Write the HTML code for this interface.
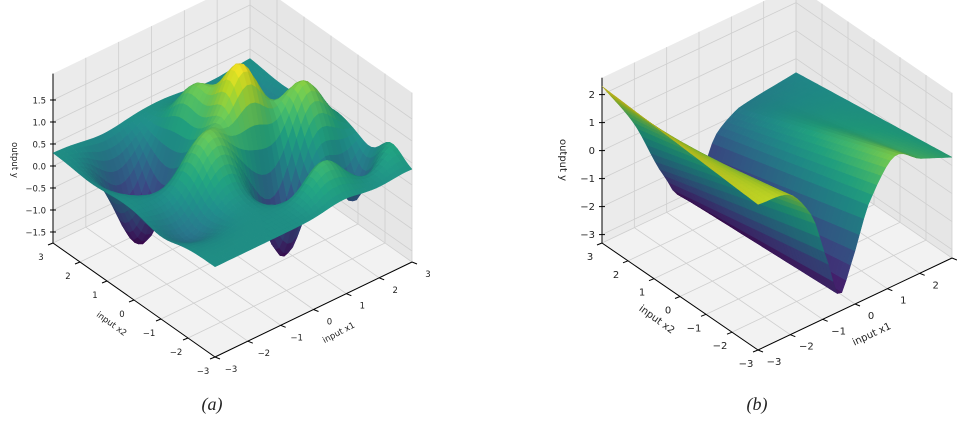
<!DOCTYPE html>
<html><head><meta charset="utf-8"><style>
body{margin:0;background:#fff}
svg{display:block}
text{font-family:"DejaVu Sans","Liberation Sans",sans-serif;fill:#222}
</style></head><body>
<svg id="s" width="957" height="421" xmlns="http://www.w3.org/2000/svg"></svg>
<script>
const S=document.getElementById('s');
const NS='http://www.w3.org/2000/svg';
function el(t,a,txt){const e=document.createElementNS(NS,t);for(const k in a)e.setAttribute(k,a[k]);if(txt!==undefined)e.textContent=txt;S.appendChild(e);return e;}
const VIR=[[68,1,84],[72,35,116],[64,67,135],[52,94,141],[41,120,142],[32,144,140],[34,167,132],[68,190,112],[121,209,81],[189,222,38],[253,231,37]];
function vir(t){t=Math.max(0,Math.min(1,t))*10;const i=Math.min(9,Math.floor(t)),f=t-i;const a=VIR[i],b=VIR[i+1];return [0,1,2].map(k=>a[k]+(b[k]-a[k])*f);}
function plot(o){
  const F=o.front,R=[o.right[0]-F[0],o.right[1]-F[1]],L=[o.left[0]-F[0],o.left[1]-F[1]];
  const P=(x1,x2,z)=>[F[0]+(x1+3)/6*R[0]+(x2+3)/6*L[0],F[1]+(x1+3)/6*R[1]+(x2+3)/6*L[1]-(z-o.zmin)*o.k];
  const pts=a=>a.map(p=>p[0].toFixed(1)+','+p[1].toFixed(1)).join(' ');
  const zmin=o.zmin,zmax=o.zmax;
  el('polygon',{points:pts([P(-3,-3,zmin),P(3,-3,zmin),P(3,3,zmin),P(-3,3,zmin)]),fill:'#f2f2f2'});
  el('polygon',{points:pts([P(-3,3,zmin),P(3,3,zmin),P(3,3,zmax),P(-3,3,zmax)]),fill:'#ebebeb'});
  el('polygon',{points:pts([P(3,3,zmin),P(3,-3,zmin),P(3,-3,zmax),P(3,3,zmax)]),fill:'#e6e6e6'});
  const g={stroke:'#cfcfcf','stroke-width':0.8};
  const line=(a,b,st)=>el('line',Object.assign({x1:a[0],y1:a[1],x2:b[0],y2:b[1]},st));
  for(let t=-3;t<=3;t++){
    line(P(t,-3,zmin),P(t,3,zmin),g);line(P(-3,t,zmin),P(3,t,zmin),g);
    line(P(t,3,zmin),P(t,3,zmax),g);line(P(3,t,zmin),P(3,t,zmax),g);
  }
  o.zt.forEach(z=>{line(P(-3,3,z),P(3,3,z),g);line(P(3,3,z),P(3,-3,z),g);});
  const ax={stroke:'#000','stroke-width':1};
  line(P(-3,3,zmin),P(-3,3,zmax),ax);
  line(P(-3,3,zmin),P(-3,-3,zmin),ax);
  line(P(-3,-3,zmin),P(3,-3,zmin),ax);
  const N=44,polys=[];
  const zs=[];let fmin=1e9,fmax=-1e9;
  for(let i=0;i<=N;i++){zs[i]=[];for(let j=0;j<=N;j++){const x1=-3+6*i/N,x2=-3+6*j/N;const z=o.f(x1,x2);zs[i][j]=z;fmin=Math.min(fmin,z);fmax=Math.max(fmax,z);}}
  for(let i=0;i<N;i++)for(let j=0;j<N;j++){
    const x1=-3+6*i/N,x2=-3+6*j/N,d=6/N;
    const z00=zs[i][j],z10=zs[i+1][j],z01=zs[i][j+1],z11=zs[i+1][j+1];
    const zc=(z00+z10+z01+z11)/4;
    const dzx=((z10+z11)-(z00+z01))/(2*d),dzy=((z01+z11)-(z00+z10))/(2*d);
    let nx=-dzx,ny=-dzy,nz=1;const nl=Math.hypot(nx,ny,nz);nx/=nl;ny/=nl;nz/=nl;
    const lx=-0.5,ly=-0.3,lz=0.8;const dot=Math.abs((nx*lx+ny*ly+nz*lz)/Math.hypot(lx,ly,lz));
    const sh=0.75+0.25*dot;
    const c=vir((zc-fmin)/(fmax-fmin)).map(v=>Math.round(Math.min(255,v*sh)));
    const xn=(x1+d/2+3)/6,yn=(x2+d/2+3)/6,zn=(zc-zmin)/(zmax-zmin);
    const depth=(xn+yn)*0.61-zn*0.5;
    polys.push([depth,pts([P(x1,x2,z00),P(x1+d,x2,z10),P(x1+d,x2+d,z11),P(x1,x2+d,z01)]),'rgb('+c.join(',')+')']);
  }
  polys.sort((a,b)=>b[0]-a[0]);
  polys.forEach(p=>el('polygon',{points:p[1],fill:p[2],stroke:p[2],'stroke-width':0.5,'stroke-linejoin':'round'}));
  const fs=o.fs;
  o.zt.forEach((z,i)=>{const p=P(-3,3,z);line([p[0]-3,p[1]],[p[0]+3,p[1]],ax);
    el('text',{x:p[0]-7,y:p[1]+3.5,'font-size':fs,'text-anchor':'end'},o.zl[i]);});
  for(let t=-3;t<=3;t++){
    const lab=t<0?'\u2212'+(-t):''+t;
    let p=P(-3,t,zmin);line(p,[p[0]-5,p[1]+2],ax);
    el('text',{x:p[0]-12,y:p[1]+17,'font-size':fs,'text-anchor':'middle'},lab);
    p=P(t,-3,zmin);line(p,[p[0]+5,p[1]+2],ax);
    el('text',{x:p[0]+16,y:p[1]+15,'font-size':fs,'text-anchor':'middle'},lab);
  }
  const lb=(x,y,r,s)=>el('text',{x:x,y:y,'font-size':fs,'text-anchor':'middle',transform:`rotate(${r} ${x} ${y})`},s);
  lb(o.lx2[0],o.lx2[1],o.lx2[2],'input x2');
  lb(o.lx1[0],o.lx1[1],o.lx1[2],'input x1');
  lb(o.ly[0],o.ly[1],90,'output y');
  el('text',{x:o.cap[0],y:o.cap[1],'font-size':18,'text-anchor':'middle','font-style':'italic',style:'font-family:"Liberation Serif",serif'},o.cap[2]);
}
const G=(x,y,a,b,s)=>Math.exp(-((x-a)**2+(y-b)**2)/s);
function fa(x,y){
  return 0.3+1.8*G(x,y,0.6,0.4,0.5)-2.1*G(x,y,0.7,-1.1,0.55)-2.0*G(x,y,-1.5,1.6,0.7)
   +1.0*G(x,y,-0.8,-0.1,0.6)+0.9*G(x,y,0.9,-2.0,0.5)+1.2*G(x,y,2.0,-0.2,0.5)
   +0.5*G(x,y,2.8,-2.1,0.4)-1.2*G(x,y,2.36,-1.67,0.3)+1.0*G(x,y,0.2,1.6,0.5)
   -0.6*G(x,y,1.8,1.8,0.8)-0.5*G(x,y,-2.2,-1.0,0.6);
}
function interp(xs,ys,x){
  let i=0;while(i<xs.length-2&&x>xs[i+1])i++;
  const t=(x-xs[i])/(xs[i+1]-xs[i]);
  const p1=ys[i],p2=ys[i+1],p0=i>0?ys[i-1]:2*p1-p2,p3=i+2<ys.length?ys[i+2]:2*p2-p1;
  const t2=t*t,t3=t2*t;
  return 0.5*((2*p1)+(-p0+p2)*t+(2*p0-5*p1+4*p2-p3)*t2+(-p0+3*p1-3*p2+p3)*t3);
}
const BX=[-3,-2,-1,-0.5,0,0.5,1.2,3],BY=[2.3,0.4,-2.1,-3,-2.7,-1.4,-0.8,-0.5];
const FX=[-3,-2,-1.3,-0.8,-0.5,-0.2,0.4,1.2,2,3],FY=[1.9,1.7,0.5,-1.5,-2.7,-2.0,0,1.3,0.8,0.3];
function fb(x,y){
  const zb=interp(BX,BY,x),zf=interp(FX,FY,x);
  return zf+(zb-zf)*(y+3)/6;
}
plot({front:[215,357],right:[412,262],left:[53,243],zmin:-1.75,zmax:2.1,k:44,
  zt:[-1.5,-1,-0.5,0,0.5,1,1.5],zl:['\u22121.5','\u22121.0','\u22120.5','0.0','0.5','1.0','1.5'],
  f:fa,fs:8.5,lx2:[110,326,36],lx1:[340,335,-28],ly:[12,160],cap:[212,410,'(a)']});
plot({front:[758,350],right:[952,258],left:[602,243],zmin:-3.3,zmax:2.6,k:28,
  zt:[-3,-2,-1,0,1,2],zl:['\u22123','\u22122','\u22121','0','1','2'],
  f:fb,fs:10,lx2:[655,322,36],lx1:[873,337,-25],ly:[560,160],cap:[757,410,'(b)']});
</script>
</body></html>
